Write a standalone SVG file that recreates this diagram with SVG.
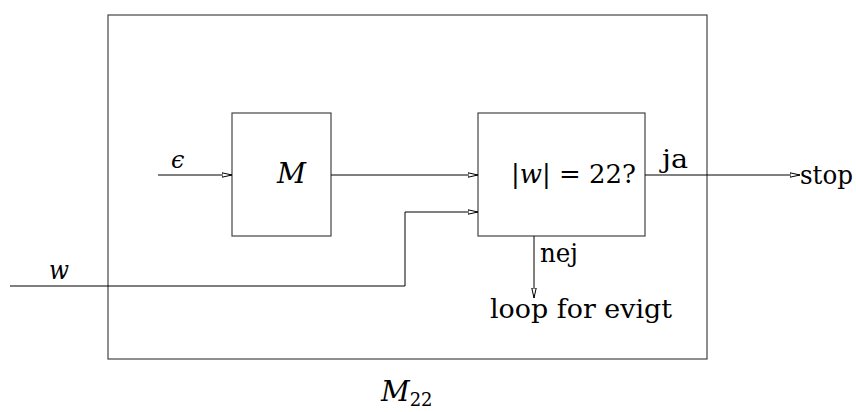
<svg xmlns="http://www.w3.org/2000/svg" width="856" height="412" viewBox="0 0 856 412">
<style>
.box{fill:none;stroke:#444;stroke-width:1.2}
.ln{fill:none;stroke:#000;stroke-width:1}
</style>
<defs>
<marker id="ah" viewBox="0 0 10 6" refX="10" refY="3" markerWidth="10" markerHeight="6" markerUnits="userSpaceOnUse" orient="auto">
<path d="M0,0.8 L10,3 L0,5.2 Z" fill="#fff" stroke="#000" stroke-width="1"/>
</marker>
</defs>
<g font-family="'DejaVu Serif', serif" font-size="26" fill="#000">
<g id="outer"><rect class="box" x="108" y="15" width="599" height="344"/></g>
<g id="M"><rect class="box" x="232" y="113" width="99" height="123"/><text font-style="italic" x="277" y="183" font-size="28" textLength="29" lengthAdjust="spacingAndGlyphs">M</text></g>
<g id="test"><rect class="box" x="478" y="113" width="167" height="123"/><text x="511" y="183" textLength="125" lengthAdjust="spacingAndGlyphs">|<tspan font-style="italic">w</tspan>| = 22?</text></g>
<g id="stop"><text x="800" y="184" textLength="53" lengthAdjust="spacingAndGlyphs">stop</text></g>
<g id="loop"><text x="490" y="318" textLength="182" lengthAdjust="spacingAndGlyphs">loop for evigt</text></g>
<g id="labels">
<text font-style="italic" x="171" y="168" font-size="24">ϵ</text>
<text font-style="italic" x="49" y="279" textLength="20" lengthAdjust="spacingAndGlyphs">w</text>
<text x="662" y="168" textLength="26" lengthAdjust="spacingAndGlyphs">ja</text>
<text x="540" y="262" textLength="38" lengthAdjust="spacingAndGlyphs">nej</text>
<text font-style="italic" x="381" y="401" font-size="28">M<tspan font-size="18" font-style="normal" dy="5">22</tspan></text>
</g>
</g>
<g id="connectors">
<path class="ln" d="M158,175 H232" marker-end="url(#ah)"/>
<path class="ln" d="M331,175 H478" marker-end="url(#ah)"/>
<path class="ln" d="M10,286 H405 V212 H478" marker-end="url(#ah)"/>
<path class="ln" d="M645,175 H800" marker-end="url(#ah)"/>
<path class="ln" d="M534,236 V298" marker-end="url(#ah)"/>
</g>
</svg>
